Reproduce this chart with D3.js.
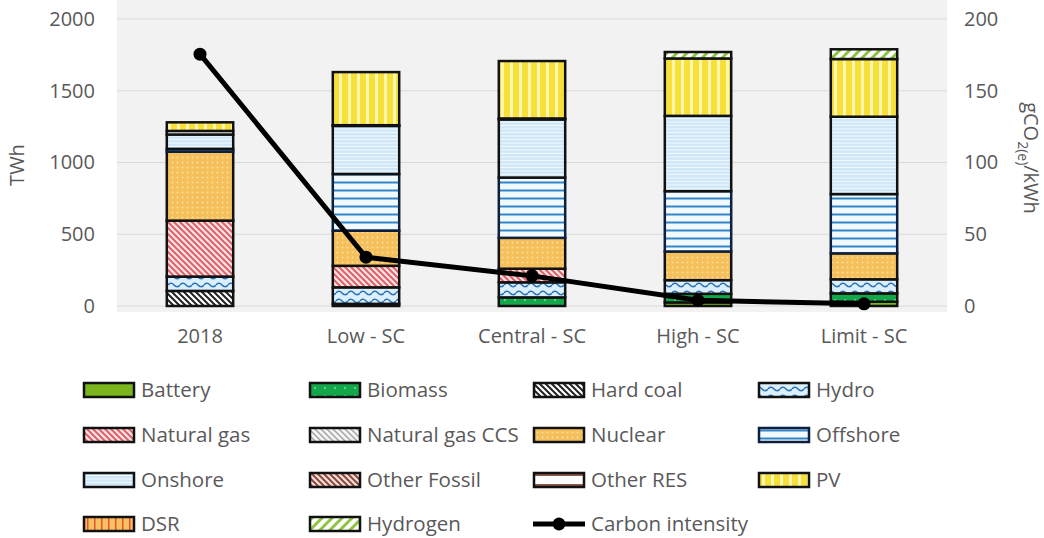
<!DOCTYPE html>
<html><head><meta charset="utf-8">
<script src="https://cdn.jsdelivr.net/npm/d3@7"></script>
<style>
body{margin:0;background:#fff;}
text{font-family:"Open Sans","Noto Sans",sans-serif;fill:#595959;}
</style></head>
<body><svg id="chart" width="1044" height="538"></svg>
<script>
// ---------- DATA ----------
const categories = ["2018", "Low - SC", "Central - SC", "High - SC", "Limit - SC"];
const technologies = ["Battery","Biomass","Hard coal","Hydro","Natural gas","Natural gas CCS","Nuclear","Offshore","Onshore","Other Fossil","Other RES","PV","DSR","Hydrogen"];
const battery       = [0,   0,   0,   25,  30];
const biomass       = [0,   15,  60,  60,  58];
const hardCoal      = [105, 0,   0,   0,   0];
const hydro         = [100, 115, 105, 95,  98];
const naturalGas    = [390, 150, 95,  0,   0];
const naturalGasCCS = [0,   0,   0,   0,   0];
const nuclear       = [480, 245, 215, 200, 181];
const offshore      = [20,  395, 420, 420, 413];
const onshore       = [100, 335, 405, 525, 539];
const otherFossil   = [0,   0,   0,   0,   0];
const otherRES      = [25,  5,   7,   0,   0];
const pv            = [60,  370, 400, 400, 402];
const dsr           = [0,   0,   0,   0,   0];
const hydrogen      = [0,   0,   0,   45,  68];
const carbonIntensity = [175.5, 34, 21, 4, 1.5];
const leftTicks  = [0, 500, 1000, 1500, 2000];
const rightTicks = [0, 50, 100, 150, 200];

const seriesValues = [battery, biomass, hardCoal, hydro, naturalGas, naturalGasCCS, nuclear,
  offshore, onshore, otherFossil, otherRES, pv, dsr, hydrogen];

// ---------- SETUP ----------
const svg = d3.select("#chart");
const defs = svg.append("defs");
const L = 117, R = 947, T = 19, B = 306;
const FS = "20px";

function pat(id, w, h, bg, draw){
  const p = defs.append("pattern").attr("id", id).attr("patternUnits","userSpaceOnUse")
    .attr("width", w).attr("height", h);
  p.append("rect").attr("width", w).attr("height", h).attr("fill", bg);
  draw(p);
}
function diag(p, s, color, sw, up){
  const d = up ? `M0,${s} L${s},0 M${-s/2},${s/2} L${s/2},${-s/2} M${s/2},${s*1.5} L${s*1.5},${s/2}`
               : `M0,0 L${s},${s} M${-s/2},${s/2} L${s/2},${s*1.5} M${s/2},${-s/2} L${s*1.5},${s/2}`;
  p.append("path").attr("d", d).attr("stroke", color).attr("stroke-width", sw).attr("fill","none");
}
pat("p-battery", 6, 6, "#7ab51d", p=>{});
pat("p-biomass", 10, 8, "#12a84a", p=>{ p.append("circle").attr("cx",5).attr("cy",4).attr("r",0.8).attr("fill","#d8f5df"); });
pat("p-hardcoal", 6, 6, "#ffffff", p=>diag(p, 6, "#222", 2, false));
pat("p-hydro", 12, 8, "#dcefff", p=>{ p.append("path").attr("d","M0,5 Q3,1.5 6,5 T12,5").attr("stroke","#2e75b6").attr("stroke-width",1.6).attr("fill","none"); });
pat("p-natgas", 6, 6, "#fbe4e4", p=>diag(p, 6, "#e0606a", 2, false));
pat("p-natgasccs", 6, 6, "#f4f4f4", p=>diag(p, 6, "#a6a6a6", 1.5, false));
pat("p-nuclear", 5, 5, "#f5bf5a", p=>{ p.append("circle").attr("cx",2.5).attr("cy",2.5).attr("r",1).attr("fill","#fbe0a6"); });
pat("p-offshore", 8, 8, "#f3faff", p=>{ p.append("rect").attr("y",5.5).attr("width",8).attr("height",2).attr("fill","#2f86c8"); });
pat("p-onshore", 6, 3.5, "#cfe7f7", p=>{ p.append("rect").attr("y",2.5).attr("width",6).attr("height",1).attr("fill","#f2f9ff"); });
pat("p-otherfossil", 6, 6, "#f7e0dc", p=>diag(p, 6, "#8a4a3a", 2, false));
pat("p-otherres", 6, 10, "#ffffff", p=>{ p.append("rect").attr("y",4).attr("width",6).attr("height",2).attr("fill","#8a5a4a"); });
pat("p-pv", 9, 6, "#f7e03a", p=>{ p.append("rect").attr("x",6).attr("width",3).attr("height",6).attr("fill","#fff7b0"); });
pat("p-dsr", 7, 7, "#f7c160", p=>{ p.append("rect").attr("x",3).attr("width",1.5).attr("height",7).attr("fill","#e8503a"); });
pat("p-hydrogen", 10, 10, "#ffffff", p=>diag(p, 10, "#8cc63f", 3, true));

const patIds = ["p-battery","p-biomass","p-hardcoal","p-hydro","p-natgas","p-natgasccs","p-nuclear",
  "p-offshore","p-onshore","p-otherfossil","p-otherres","p-pv","p-dsr","p-hydrogen"];
const borderColors = ["#111","#111","#111","#111","#111","#111","#111","#0d1f3c","#111","#111","#111","#111","#111","#111"];

// background
svg.append("rect").attr("x", L).attr("y", 0).attr("width", R - L).attr("height", 312).attr("fill", "#f2f2f2");

const x = d3.scaleBand().domain(categories).range([L, R]).paddingInner(0.6).paddingOuter(0.3);
const y = d3.scaleLinear().domain([0, 2000]).range([B, T]);
const yR = d3.scaleLinear().domain([0, 200]).range([B, T]);

// gridlines
svg.append("g").selectAll("line").data(leftTicks).join("line")
  .attr("x1", L).attr("x2", R).attr("y1", d => y(d)).attr("y2", d => y(d))
  .attr("stroke", "#d9d9d9").attr("stroke-width", 1.2);

// axes
const axL = svg.append("g").attr("transform", `translate(${L},0)`)
  .call(d3.axisLeft(y).tickValues(leftTicks).tickFormat(d3.format("d")).tickSize(0).tickPadding(22));
axL.select(".domain").remove();
axL.selectAll("text").style("font-size", FS).style("fill", "#595959").style("font-family", "Open Sans");

const axR = svg.append("g").attr("transform", `translate(${R},0)`)
  .call(d3.axisRight(yR).tickValues(rightTicks).tickFormat(d3.format("d")).tickSize(0).tickPadding(17));
axR.select(".domain").remove();
axR.selectAll("text").style("font-size", FS).style("fill", "#595959").style("font-family", "Open Sans");

const axX = svg.append("g").attr("transform", `translate(0,${B})`)
  .call(d3.axisBottom(x).tickSize(0).tickPadding(23));
axX.select(".domain").remove();
axX.selectAll("text").style("font-size", FS).style("fill", "#595959").style("font-family", "Open Sans");

// axis titles
svg.append("text").attr("transform", "translate(24,165) rotate(-90)").attr("text-anchor", "middle")
  .style("font-size", FS).text("TWh");
const rt = svg.append("text").attr("transform", "translate(1024,158) rotate(90)").attr("text-anchor", "middle")
  .style("font-size", FS);
rt.append("tspan").text("gCO");
rt.append("tspan").attr("dy", 6).style("font-size", "14px").text("2(e)");
rt.append("tspan").attr("dy", -6).text("/kWh");

// stacked bars
const table = categories.map((c, i) => {
  const o = { category: c };
  technologies.forEach((t, k) => o[t] = seriesValues[k][i]);
  return o;
});
const stack = d3.stack().keys(technologies)(table);
const gBars = svg.append("g");
stack.forEach((layer, k) => {
  gBars.append("g").selectAll("rect").data(layer.filter(d => d[1] - d[0] > 0)).join("rect")
    .attr("x", d => x(d.data.category))
    .attr("width", x.bandwidth())
    .attr("y", d => y(d[1]))
    .attr("height", d => y(d[0]) - y(d[1]))
    .attr("fill", `url(#${patIds[k]})`)
    .attr("stroke", borderColors[k]).attr("stroke-width", 2.5);
});

// carbon intensity line
const line = d3.line().x((d, i) => x(categories[i]) + x.bandwidth() / 2).y(d => yR(d));
svg.append("path").datum(carbonIntensity).attr("d", line).attr("fill", "none")
  .attr("stroke", "#000").attr("stroke-width", 5).attr("stroke-linejoin", "round");
svg.append("g").selectAll("circle").data(carbonIntensity).join("circle")
  .attr("cx", (d, i) => x(categories[i]) + x.bandwidth() / 2).attr("cy", d => yR(d))
  .attr("r", 6.5).attr("fill", "#000");

// legend
const legendItems = technologies.map((t, k) => ({ name: t, k })).concat([{ name: "Carbon intensity", k: -1 }]);
const colX = [83, 309, 533, 758];
const rowY = [390, 435, 480, 524];
const lg = svg.append("g");
legendItems.forEach((d, i) => {
  const cx = colX[i % 4], cy = rowY[Math.floor(i / 4)];
  const g = lg.append("g");
  if (d.k >= 0) {
    g.append("rect").attr("x", cx + 1).attr("y", cy - 7).attr("width", 50).attr("height", 14)
      .attr("fill", `url(#${patIds[d.k]})`).attr("stroke", borderColors[d.k]).attr("stroke-width", 2.5);
  } else {
    g.append("line").attr("x1", cx).attr("x2", cx + 52).attr("y1", cy).attr("y2", cy)
      .attr("stroke", "#000").attr("stroke-width", 5);
    g.append("circle").attr("cx", cx + 26).attr("cy", cy).attr("r", 6.5).attr("fill", "#000");
  }
  g.append("text").attr("x", cx + 58).attr("y", cy).attr("dy", "0.35em")
    .style("font-size", "20.5px").text(d.name);
});
</script></body></html>
